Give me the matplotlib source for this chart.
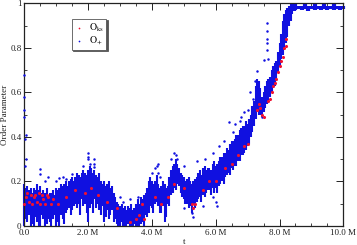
import matplotlib
matplotlib.use("Agg")
import matplotlib.pyplot as plt
from matplotlib.ticker import MultipleLocator, FixedLocator, FixedFormatter

plt.rcParams['font.family'] = ['Liberation Serif', 'DejaVu Serif']
plt.rcParams['mathtext.fontset'] = 'stix'

band_t = [0.0,0.1,0.2,0.3,0.4,0.5,0.6,0.7,0.8,0.9,1.0,1.1,1.2,1.3,1.4,1.5,1.6,1.7,1.8,1.9,
          2.0,2.1,2.2,2.3,2.4,2.5,2.6,2.7,2.8,2.9,3.0,3.1,3.2,3.3,3.4,3.5,3.6,3.7,3.8,3.9,
          4.0,4.1,4.2,4.3,4.4,4.5,4.6,4.7,4.8,4.9,5.0,5.1,5.2,5.3,5.4,5.5,5.6,5.7,5.8,5.9,
          6.0,6.1,6.2,6.3,6.4,6.5,6.6,6.7,6.8,6.9,7.0,7.1,7.2,7.3,7.4,7.5,7.6,7.7,7.8,7.9,
          8.0,8.1,8.2,8.3,8.4]
band_low = [.0,.02,.0,.0,.02,.0,.03,.01,.02,.03,.0,.0,.03,.06,.08,.07,.1,.1,.12,.1,
            .02,.1,.12,.1,.05,.02,.07,.05,.02,.01,.0,.0,.0,.0,.0,.0,.0,.02,.05,.06,
            .08,.1,.09,.06,.02,.1,.14,.17,.19,.15,.12,.1,.09,.1,.11,.13,.14,.15,.16,.17,
            .17,.18,.2,.22,.24,.26,.27,.29,.32,.33,.36,.4,.45,.52,.5,.51,.55,.58,.62,.65,
            .72,.77,.82,.9,.95]
band_high = [.19,.18,.17,.17,.19,.18,.16,.17,.15,.16,.17,.17,.18,.2,.2,.22,.22,.23,.24,.24,
             .25,.26,.25,.22,.2,.2,.19,.17,.15,.11,.09,.08,.07,.08,.07,.1,.1,.12,.15,.2,
             .2,.2,.19,.18,.19,.18,.25,.28,.28,.24,.22,.21,.2,.2,.22,.25,.26,.25,.26,.28,
             .27,.29,.31,.33,.34,.38,.39,.41,.44,.45,.46,.5,.56,.66,.62,.6,.65,.67,.72,.74,
             .82,.92,.97,.99,.995]

mid_t = [.05,.15,.25,.35,.45,.55,.65,.75,.85,.95,1.05,1.15,1.25,1.35,1.45,1.55,1.65,1.75,1.85,1.95,
         2.05,2.15,2.25,2.35,2.45,2.55,2.65,2.75,2.85,2.95,3.05,3.15,3.25,3.35,3.45,3.55,3.65,3.75,3.85,3.95,
         4.05,4.15,4.25,4.35,4.45,4.55,4.65,4.75,4.85,4.95,5.05,5.15,5.25,5.35,5.45,5.55,5.65,5.75,5.85,5.95,
         6.05,6.15,6.25,6.35,6.45,6.55,6.65,6.75,6.85,6.95,7.05,7.15,7.25,7.35,7.45,7.55,7.65,7.75,7.85,7.95,
         8.05,8.15,8.25,8.35]
mid_low = [.03,.05,.01,.04,.0,.05,.0,.03,.0,.05,.02,.05,.01,.07,.05,.09,.08,.05,.09,.06,
           .08,.06,.08,.07,.09,.04,.03,.07,.03,.0,.02,.0,.01,.0,.01,.0,.01,.0,.04,.09,
           .06,.11,.06,.09,.04,.09,.15,.16,.18,.13,.1,.08,.06,.08,.12,.11,.13,.16,.14,.15,
           .15,.19,.19,.23,.23,.25,.27,.29,.32,.34,.37,.42,.48,.5,.49,.53,.56,.6,.63,.69,
           .75,.79,.85,.92]
mid_high = [.17,.16,.15,.16,.16,.15,.15,.14,.15,.14,.16,.19,.19,.18,.21,.2,.24,.22,.25,.23,
            .27,.24,.23,.24,.19,.18,.2,.18,.13,.1,.1,.09,.09,.1,.08,.12,.13,.14,.17,.22,
            .19,.23,.17,.2,.17,.22,.27,.3,.26,.23,.2,.22,.19,.21,.24,.23,.27,.26,.25,.29,
            .28,.31,.33,.35,.37,.38,.41,.43,.45,.47,.48,.54,.63,.65,.58,.63,.66,.7,.73,.78,
            .86,.95,.98,.995]

plateau_t = [8.45,8.5,8.6,8.7,8.8,8.9,9.0,9.1,9.2,9.3,9.4,9.5,9.6,9.7,9.8,9.9,10.0]
plateau_low = [.965,.97,.975,.97,.975,.965,.975,.97,.975,.97,.975,.97,.975,.97,.975,.97,.975]
plateau_high = [.995,.995,.99,.99,.995,.99,.99,.995,.99,.99,.995,.99,.99,.995,.99,.99,.99]

out_t = [.0,.0,.0,.0,.05,.03,.05,.02,.5,.5,.75,.65,1.0,1.1,1.2,1.3,1.5,2.0,2.0,2.0,2.2,2.2,2.05,
         2.2,1.85,3.0,3.3,3.55,3.1,4.0,4.1,4.2,4.15,4.2,4.25,4.6,4.7,4.75,4.8,5.3,5.25,5.0,5.6,
         6.05,6.0,5.9,6.43,6.6,6.8,6.9,7.08,7.17,7.3,7.62,7.62,7.62,7.62,7.62,7.5,7.65,7.45,
         5.0,5.4,5.65,5.9,6.1,6.25,6.55,6.75,7.0,7.25,7.24]
out_v = [.68,.58,.52,.49,.41,.39,.3,.27,.255,.235,.22,.2,.2,.215,.22,.21,.235,.33,.31,.3,.3,.28,.28,
         .265,.27,.13,.12,.13,.11,.24,.26,.24,.27,.28,.22,.3,.33,.32,.3,.04,.06,.08,.09,
         .09,.11,.13,.467,.457,.49,.51,.6,.57,.695,.91,.875,.84,.82,.79,.745,.75,.49,
         .27,.29,.3,.33,.36,.38,.42,.47,.52,.62,.65]

red_t = [.0,.05,.1,.15,.2,.25,.3,.35,.4,.45,.5,.55,.6,.65,.7,.75,.85,.9,1.05,1.3,1.6,1.9,2.1,2.3,2.6,2.9,
         3.3,3.5,3.6,3.7,3.75,4.1,4.3,4.5,4.7,5.0,5.25,5.3,5.35,5.6,5.8,6.0,6.3,6.5,6.7,6.9,7.0,
         7.3,7.35,7.4,7.45,7.5,7.65,7.7,7.75,7.8,7.85,7.9,7.95,8.0,8.05,8.1,8.15,8.2,8.2]
red_v = [.1,.13,.15,.11,.14,.1,.13,.14,.11,.15,.1,.14,.12,.1,.14,.13,.1,.12,.1,.13,.16,.15,.17,.14,.11,.08,
         .02,.03,.05,.1,.03,.13,.1,.13,.19,.17,.1,.08,.1,.16,.2,.2,.26,.28,.32,.36,.37,
         .52,.55,.53,.5,.49,.56,.57,.6,.63,.64,.66,.69,.72,.74,.76,.8,.81,.84]

label_top = r'$\mathrm{O}_{\mathrm{ks}}$'
label_bot = r'$\mathrm{O}_{+}$'
x_major = [0, 2, 4, 6, 8, 10]
x_labels = ['0.0', '2.0 M', '4.0 M', '6.0 M', '8.0 M', '10.0 M']
y_major = [0, .2, .4, .6, .8, 1]
y_labels = ['0', '0.2', '0.4', '0.6', '0.8', '1']

W, H = 357, 245
fig = plt.figure(figsize=(W/100, H/100), dpi=100)
ax = fig.add_axes([24.3/W, 1-226/H, (343.3-24.3)/W, (226-3.3)/H])
blue = '#1010e0'
red = '#f01030'
ax.vlines(band_t, band_low, band_high, color=blue, lw=1.5, clip_on=False, zorder=2)
ax.vlines(mid_t, mid_low, mid_high, color=blue, lw=1.5, clip_on=False, zorder=2)
ax.vlines(plateau_t, plateau_low, plateau_high, color=blue, lw=3, clip_on=False, zorder=2)
ax.scatter(out_t, out_v, s=3.2, color=blue, lw=0, clip_on=False, zorder=3)
ax.scatter(red_t, red_v, s=5, color=red, lw=0, clip_on=False, zorder=4)
h1 = ax.scatter([], [], s=1.5, color=red, lw=0, label=label_top)
h2 = ax.scatter([], [], s=1.5, color=blue, lw=0, label=label_bot)

ax.set_xlim(0, 10)
ax.set_ylim(0, 1)
ax.xaxis.set_major_locator(FixedLocator(x_major))
ax.xaxis.set_major_formatter(FixedFormatter(x_labels))
ax.yaxis.set_major_locator(FixedLocator(y_major))
ax.yaxis.set_major_formatter(FixedFormatter(y_labels))
ax.xaxis.set_minor_locator(MultipleLocator(0.5))
ax.yaxis.set_minor_locator(MultipleLocator(0.1))
ax.tick_params(which='major', direction='in', top=True, right=True, length=5, width=0.7,
               labelsize=6.5, colors='#222222', pad=2)
ax.tick_params(which='minor', direction='in', top=True, right=True, length=2.5, width=0.6, colors='#222222')
for s in ax.spines.values():
    s.set_linewidth(0.9)
    s.set_color('#222222')
ax.set_xlabel('t', fontsize=6.5, labelpad=1, color='#222222')
ax.set_ylabel('Order Parameter', fontsize=6.5, labelpad=1, color='#222222')
leg = ax.legend(handles=[h1, h2], loc='upper left', bbox_to_anchor=((72-24.3)/319, (226-19)/222.7),
                borderaxespad=0, frameon=True, fancybox=False, edgecolor='#555555', framealpha=1,
                fontsize=7, labelspacing=0.1, handlelength=1.0, handletextpad=0.5, borderpad=0.25,
                shadow={'color': '#555555', 'alpha': 1, 'ox': 1, 'oy': -1})
leg.get_frame().set_linewidth(0.6)
fig.savefig('out.png', dpi=100)
